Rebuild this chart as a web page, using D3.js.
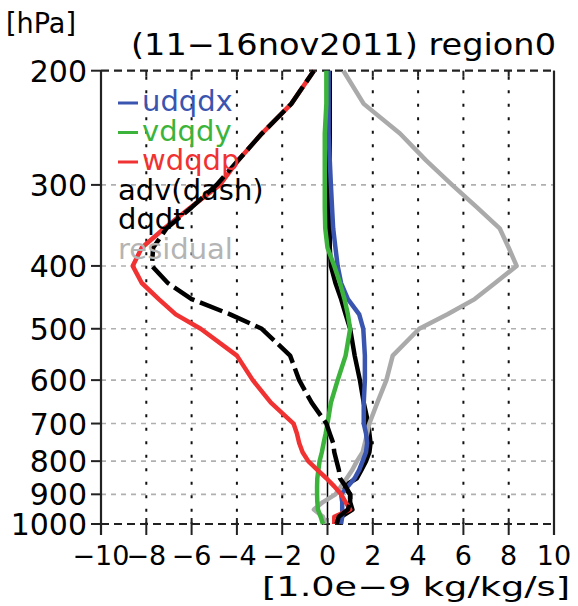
<!DOCTYPE html>
<html>
<head>
<meta charset="utf-8">
<script src="https://cdn.jsdelivr.net/npm/d3@7"></script>
<style>
  body { margin: 0; background: #fff; }
  text { font-family: "DejaVu Sans", sans-serif; }
</style>
</head>
<body>
<svg id="chart" width="578" height="606"></svg>
<script>
// pressure levels (hPa), bottom to top
const levels = [1000, 975, 950, 925, 900, 875, 850, 825, 800, 775, 750, 725, 700, 650, 600, 550, 500, 475, 450, 425, 400, 375, 350, 325, 300, 275, 250, 225, 200];

// tendencies [1.0e-9 kg/kg/s], one value per level
const udqdx = [0.6, 0.65, 0.65, 0.65, 0.6, 0.9, 1.2, 1.4, 1.55, 1.7, 1.75, 1.7, 1.6, 1.6, 1.65, 1.65, 1.58, 1.4, 0.9, 0.6, 0.45, 0.35, 0.25, 0.2, 0.15, 0.1, 0.05, 0.05, 0.05];
const vdqdy = [-0.2, -0.3, -0.42, -0.45, -0.46, -0.46, -0.45, -0.4, -0.35, -0.25, -0.17, -0.08, 0.0, 0.15, 0.45, 0.8, 1.0, 0.9, 0.75, 0.55, 0.3, 0.0, -0.1, -0.12, -0.12, -0.12, -0.12, -0.05, -0.05];
const wdqdp = [0.3, 0.3, 1.0, 0.8, 0.6, 0.3, -0.05, -0.45, -0.85, -1.1, -1.25, -1.35, -1.5, -2.5, -3.3, -4.0, -5.6, -6.7, -7.45, -8.2, -8.6, -8.2, -7.2, -6.05, -4.75, -3.95, -2.9, -1.6, -0.6];
const adv = [0.4, 0.5, 0.9, 1.0, 1.0, 0.8, 0.55, 0.5, 0.4, 0.3, 0.25, 0.1, -0.05, -0.7, -1.25, -1.65, -2.9, -4.3, -6.0, -7.05, -7.75, -7.7, -7.1, -6.0, -4.9, -3.95, -2.9, -1.6, -0.6];
const dqdt = [0.5, 0.6, 1.1, 1.0, 1.0, 0.7, 1.3, 1.5, 1.7, 1.85, 1.9, 1.85, 1.8, 1.6, 1.43, 1.2, 1.0, 0.8, 0.6, 0.35, 0.15, 0.1, 0.1, 0.1, 0.1, 0.1, 0.1, 0.1, 0.1];
const residual = [-0.1, -0.2, -0.6, -0.2, 0.35, 0.6, 0.85, 1.1, 1.3, 1.55, 1.65, 1.75, 1.85, 2.2, 2.6, 2.88, 4.05, 5.3, 6.5, 7.4, 8.35, 8.0, 7.6, 6.6, 5.5, 4.35, 3.2, 1.6, 0.7];

const pTicks = [200, 300, 400, 500, 600, 700, 800, 900, 1000];
const xTicks = [-10, -8, -6, -4, -2, 0, 2, 4, 6, 8, 10];

const svg = d3.select('#chart');

const x = d3.scaleLinear().domain([-10, 10]).range([101, 554]);
const y = d3.scaleLog().domain([200, 1000]).range([70.7, 524]);

const yTop = y(200), yBot = y(1000), xLeft = x(-10), xRight = x(10);

// horizontal grid (grey dashed)
svg.append('g').selectAll('line')
    .data(pTicks.filter(p => p > 200 && p < 1000))
    .join('line')
    .attr('x1', xLeft).attr('x2', xRight)
    .attr('y1', d => y(d)).attr('y2', d => y(d))
    .attr('stroke', '#b0b0b0').attr('stroke-width', 1.6)
    .attr('stroke-dasharray', '5,5');

// vertical grid (black dotted)
svg.append('g').selectAll('line')
    .data(xTicks.filter(v => v > -10 && v < 10 && v !== 0))
    .join('line')
    .attr('x1', d => x(d)).attr('x2', d => x(d))
    .attr('y1', yTop + 6).attr('y2', yBot)
    .attr('stroke', '#111').attr('stroke-width', 2)
    .attr('stroke-dasharray', '3,10.5');

// zero line
svg.append('line')
    .attr('x1', x(0)).attr('x2', x(0)).attr('y1', yTop).attr('y2', yBot)
    .attr('stroke', '#000').attr('stroke-width', 1.5);

// top and bottom borders dashed
[yTop, yBot].forEach(yy => {
    svg.append('line')
        .attr('x1', xLeft).attr('x2', xRight).attr('y1', yy).attr('y2', yy)
        .attr('stroke', '#222').attr('stroke-width', 2.2)
        .attr('stroke-dasharray', '8,5');
});

// left and right axes
[xLeft, xRight].forEach(xx => {
    svg.append('line')
        .attr('x1', xx).attr('x2', xx).attr('y1', yTop).attr('y2', yBot + 11)
        .attr('stroke', '#222').attr('stroke-width', 2.2);
});

// ticks
svg.append('g').selectAll('line')
    .data(pTicks)
    .join('line')
    .attr('x1', xLeft - 10).attr('x2', xLeft)
    .attr('y1', d => y(d)).attr('y2', d => y(d))
    .attr('stroke', '#222').attr('stroke-width', 2);
svg.append('g').selectAll('line')
    .data(xTicks)
    .join('line')
    .attr('x1', d => x(d)).attr('x2', d => x(d))
    .attr('y1', yTop).attr('y2', yTop + 6)
    .attr('stroke', '#222').attr('stroke-width', 2);
svg.append('g').selectAll('line')
    .data(xTicks)
    .join('line')
    .attr('x1', d => x(d)).attr('x2', d => x(d))
    .attr('y1', yBot - 6).attr('y2', yBot + 11)
    .attr('stroke', '#222').attr('stroke-width', 2);

// tick labels
svg.append('g').selectAll('text')
    .data(pTicks)
    .join('text')
    .attr('x', 87).attr('y', d => y(d) + 11)
    .attr('text-anchor', 'end')
    .attr('font-size', 30)
    .text(d => d);
svg.append('g').selectAll('text')
    .data(xTicks)
    .join('text')
    .attr('x', d => x(d)).attr('y', 565)
    .attr('text-anchor', 'middle')
    .attr('font-size', 27)
    .text(d => d < 0 ? '\u2212' + Math.abs(d) : d);

// curves (dqdt drawn first so the other lines sit over it)
const line = d3.line()
    .x(d => x(d[1]))
    .y(d => y(d[0]));
const pairs = vals => levels.map((p, i) => [p, vals[i]]);

const series = [
    { vals: dqdt, color: '#000', width: 4.5 },
    { vals: residual, color: '#aaaaaa', width: 4.5 },
    { vals: udqdx, color: '#3a55b0', width: 4.5 },
    { vals: vdqdy, color: '#3cb43c', width: 4.5 },
    { vals: wdqdp, color: '#f03232', width: 4.5 },
    { vals: adv, color: '#000', width: 4.5, dash: '24,6' }
];
series.forEach(s => {
    svg.append('path')
        .attr('d', line(pairs(s.vals)))
        .attr('fill', 'none')
        .attr('stroke', s.color)
        .attr('stroke-width', s.width)
        .attr('stroke-linejoin', 'round')
        .attr('stroke-dasharray', s.dash || null);
});

// legend
const legend = [
    { name: 'udqdx', color: '#3a55b0', mark: true },
    { name: 'vdqdy', color: '#3cb43c', mark: true },
    { name: 'wdqdp', color: '#f03232', mark: true },
    { name: 'adv(dash)', color: '#000', mark: false },
    { name: 'dqdt', color: '#000', mark: false },
    { name: 'residual', color: '#b4b4b4', mark: false }
];
legend.forEach((l, i) => {
    const by = 111 + i * 29.5;
    if (l.mark) {
        svg.append('line')
            .attr('x1', 118).attr('x2', 138).attr('y1', by - 8).attr('y2', by - 8)
            .attr('stroke', l.color).attr('stroke-width', 3);
    }
    svg.append('text')
        .attr('x', l.mark ? 142 : 118).attr('y', by)
        .attr('font-size', 29)
        .attr('fill', l.color)
        .text(l.name);
});

// titles
svg.append('text')
    .attr('x', 6).attr('y', 33)
    .attr('font-size', 28)
    .attr('textLength', 70).attr('lengthAdjust', 'spacingAndGlyphs')
    .text('[hPa]');
svg.append('text')
    .attr('x', 131).attr('y', 55)
    .attr('font-size', 30)
    .attr('textLength', 425).attr('lengthAdjust', 'spacingAndGlyphs')
    .text('(11\u221216nov2011) region0');
svg.append('text')
    .attr('x', 262).attr('y', 596)
    .attr('font-size', 27)
    .attr('textLength', 308).attr('lengthAdjust', 'spacingAndGlyphs')
    .text('[1.0e\u22129  kg/kg/s]');
</script>
</body>
</html>
